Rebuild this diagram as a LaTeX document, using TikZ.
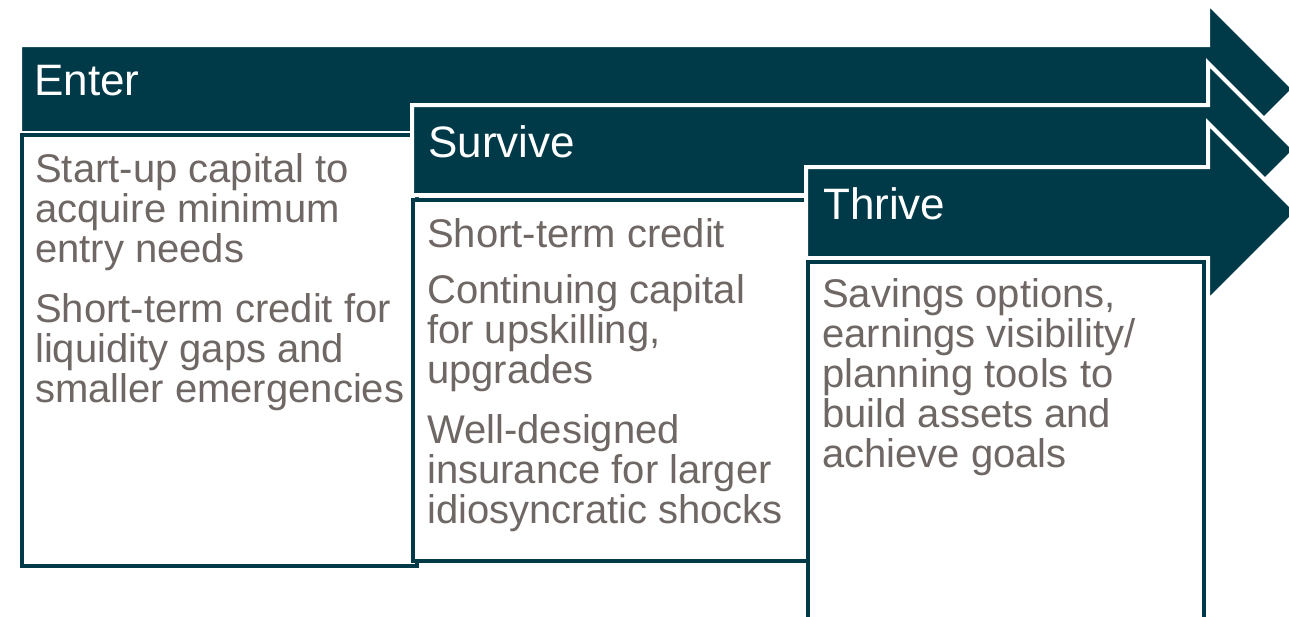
\documentclass[tikz,border=0pt]{standalone}
\usepackage{fontspec}
\setmainfont{Liberation Sans}
\usepackage{tikz}

\definecolor{stagedark}{RGB}{0,58,72}
\definecolor{stagegray}{RGB}{110,103,100}

\begin{document}
\begin{tikzpicture}
		[x=1pt, y=-1pt,
		 stage arrow/.style={fill=stagedark, draw=white, line width=4pt, line join=miter},
		 stage box/.style={fill=white, draw=stagedark, line width=4pt},
		 stage title/.style={anchor=base west, inner sep=0pt, text=white, font=\fontsize{44}{44}\selectfont},
		 stage text/.style={anchor=base west, inner sep=0pt, text=stagegray, align=left, font=\fontsize{40}{40}\selectfont}]
			\useasboundingbox (0,0) rectangle (1289,616);
			% enter (text nodes sit on the baseline of their last line)
			\filldraw[stage arrow] (20,45) -- (1208,45) -- (1208,3) -- (1294,89) -- (1208,175) -- (1208,133) -- (20,133) -- cycle;
			\draw[stage box] (22,135) rectangle (417,566);
			\node[stage title] (enter) at (34,95) {Enter};
			\node[stage text] (enter needs) at (35,402) {Start-up capital to\\acquire minimum\\entry needs\\[20pt]Short-term credit for\\liquidity gaps and\\smaller emergencies};
			% survive
			\filldraw[stage arrow] (412,105) -- (1208,105) -- (1208,63) -- (1295,150) -- (1208,237) -- (1208,195) -- (412,195) -- cycle;
			\draw[stage box] (413,200) rectangle (808,561);
			\node[stage title] (survive) at (428,157) {Survive};
			\node[stage text] (survive needs) at (427,523) {Short-term credit\\[16pt]Continuing capital\\for upskilling,\\upgrades\\[20pt]Well-designed\\insurance for larger\\idiosyncratic shocks};
			% thrive
			\filldraw[stage arrow] (806,167) -- (1208,167) -- (1208,123) -- (1297,212) -- (1208,301) -- (1208,258) -- (806,258) -- cycle;
			\draw[stage box] (808,262) rectangle (1204,630);
			\node[stage title] (thrive) at (823,219) {Thrive};
			\node[stage text] (thrive needs) at (822,467) {Savings options,\\earnings visibility/\\planning tools to\\build assets and\\achieve goals};
	\end{tikzpicture}
\end{document}
